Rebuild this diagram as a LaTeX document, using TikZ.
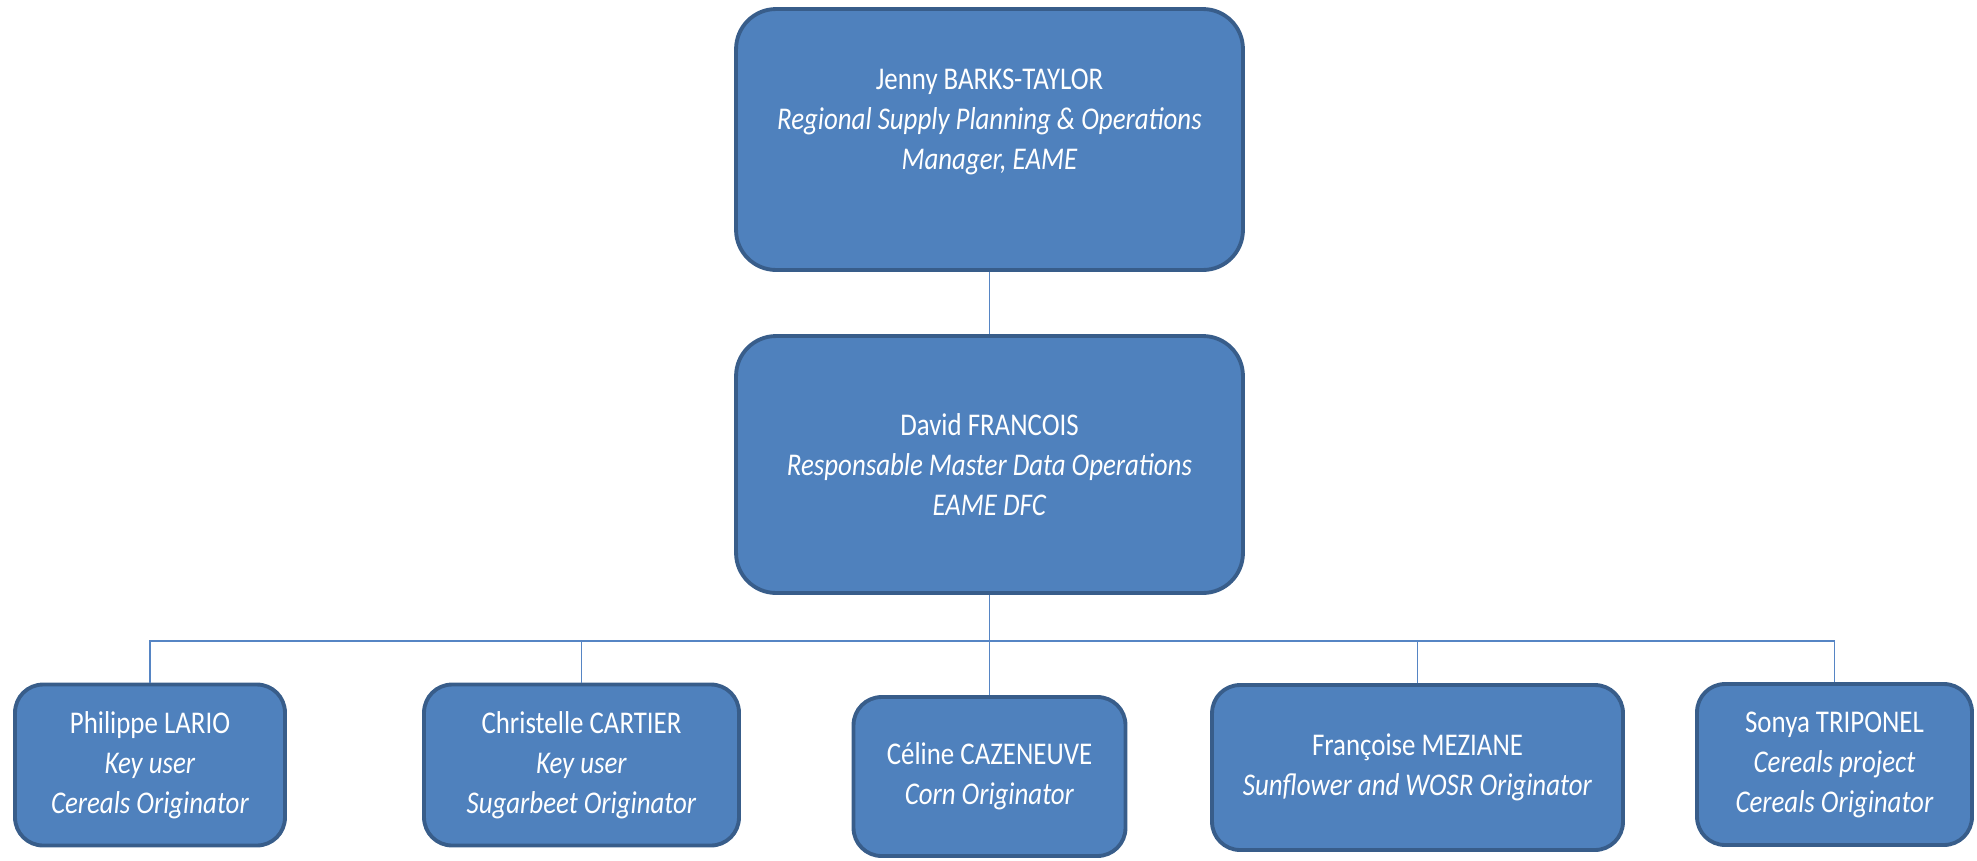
\documentclass[tikz,border=0pt]{standalone}
\usepackage{fontspec}
\setmainfont{Carlito}[FakeStretch=0.85]
\usepackage{tikz}
\usetikzlibrary{positioning}
\definecolor{boxfill}{RGB}{79,129,189}
\definecolor{boxline}{RGB}{56,93,138}
\definecolor{linkblue}{RGB}{86,133,196}

\begin{document}
\begin{tikzpicture}[x=0.02cm, y=-0.02cm,
  box/.style={draw=boxline, fill=boxfill, line width=2.2pt, rounded corners=0.8cm,
    text=white, align=center, inner sep=0pt, font=\fontsize{18pt}{22.8pt}\selectfont},
  smallbox/.style={box, rounded corners=0.56cm},
  boxtext/.style={text=white, align=center, inner sep=0pt, font=\fontsize{18pt}{22.8pt}\selectfont},
  link/.style={draw=linkblue, line width=1.1pt},
]
  \useasboundingbox (0,0) rectangle (1977,860);
  % managers
  \node[box, minimum width=10.14cm, minimum height=5.22cm,
    label={[boxtext, name=jennytext, yshift=0.36cm]center:{Jenny BARKS-TAYLOR\\\textit{Regional Supply Planning \& Operations}\\\textit{Manager, EAME}}}]
    (jenny) at (989.5,139.5) {};
  \node[box, minimum width=10.14cm, minimum height=5.14cm] (david) at (989.5,464.5)
    {David FRANCOIS\\\textit{Responsable Master Data Operations}\\\textit{EAME DFC}};
  % team
  \node[smallbox, minimum width=5.4cm, minimum height=3.22cm] (philippe) at (150,765)
    {Philippe LARIO\\\textit{Key user}\\\textit{Cereals Originator}};
  \node[smallbox, minimum width=6.3cm, minimum height=3.22cm] (christelle) at (581.5,765)
    {Christelle CARTIER\\\textit{Key user}\\\textit{Sugarbeet Originator}};
  \node[smallbox, minimum width=5.44cm, minimum height=3.18cm] (celine) at (989.5,776.5)
    {Céline CAZENEUVE\\\textit{Corn Originator}};
  \node[smallbox, minimum width=8.22cm, minimum height=3.3cm] (francoise) at (1417.5,767.5)
    {Françoise MEZIANE\\\textit{Sunflower and WOSR Originator}};
  \node[smallbox, minimum width=5.5cm, minimum height=3.22cm] (sonya) at (1834.5,764.5)
    {Sonya TRIPONEL\\\textit{Cereals project}\\\textit{Cereals Originator}};
  % connectors
  \coordinate (split) at (989.5,641);
  \draw[link] (jenny) -- (david);
  \draw[link] (david) -- (split);
  \draw[link] (split) -| (philippe);
  \draw[link] (split) -| (christelle);
  \draw[link] (split) -- (celine);
  \draw[link] (split) -| (francoise);
  \draw[link] (split) -| (sonya);
\end{tikzpicture}
\end{document}
